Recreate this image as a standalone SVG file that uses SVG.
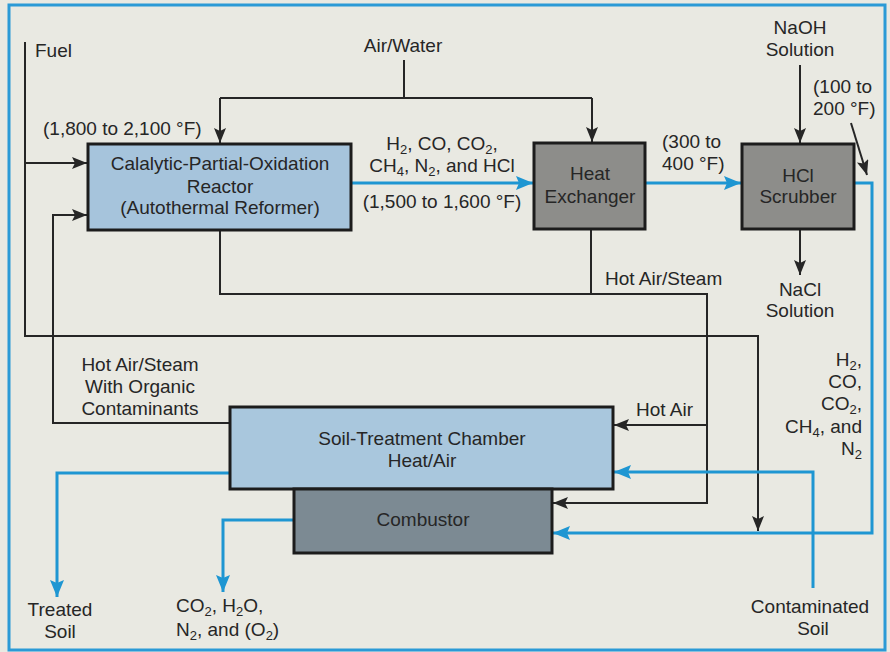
<svg xmlns="http://www.w3.org/2000/svg" width="890" height="652" viewBox="0 0 890 652">
<defs>
<style>
text{font-family:"Liberation Sans",Arial,sans-serif;font-size:19px;fill:#262626}
.m{text-anchor:middle}
.e{text-anchor:end}
.sub{font-size:13px;baseline-shift:-4px}
.k{fill:none;stroke:#262626;stroke-width:2}
.b{fill:none;stroke:#1e96d2;stroke-width:3}
.box{stroke:#1c1c1c;stroke-width:3}
</style>
<marker id="ak" markerUnits="userSpaceOnUse" markerWidth="16" markerHeight="12" refX="15" refY="6" orient="auto"><path d="M0,0 L15,6 L0,12 L3,6 z" fill="#262626"/></marker>
<marker id="ab" markerUnits="userSpaceOnUse" markerWidth="18" markerHeight="14" refX="17" refY="7" orient="auto"><path d="M0,0 L17,7 L0,14 L3,7 z" fill="#1e96d2"/></marker>
</defs>
<rect x="0" y="0" width="890" height="652" fill="#e9e9e2"/>
<rect x="9" y="5" width="876" height="645" fill="none" stroke="#2b9ad6" stroke-width="3"/>

<g id="connectors">
<path class="k" d="M25,42 V336 H758 V531" marker-end="url(#ak)"/>
<path class="k" d="M25,163 H87" marker-end="url(#ak)"/>
<path class="k" d="M404,60 V98"/>
<path class="k" d="M220,98 H592"/>
<path class="k" d="M220,98 V143" marker-end="url(#ak)"/>
<path class="k" d="M592,98 V142" marker-end="url(#ak)"/>
<path class="k" d="M220,230 V294 H707 V503 H553" marker-end="url(#ak)"/>
<path class="k" d="M591,229 V294"/>
<path class="k" d="M707,425 H614" marker-end="url(#ak)"/>
<path class="k" d="M230,423 H53 V215 H87" marker-end="url(#ak)"/>
<path class="k" d="M800,65 V143" marker-end="url(#ak)"/>
<path class="k" d="M800,229 V275" marker-end="url(#ak)"/>
<path class="k" d="M851,123 L867,175" marker-end="url(#ak)"/>
<path class="b" d="M351,183 H533" marker-end="url(#ab)"/>
<path class="b" d="M645,183 H741" marker-end="url(#ab)"/>
<path class="b" d="M854,183 H872 V533 H553" marker-end="url(#ab)"/>
<path class="b" d="M813,588 V472 H614" marker-end="url(#ab)"/>
<path class="b" d="M230,473 H57 V597" marker-end="url(#ab)"/>
<path class="b" d="M294,520 H223 V592" marker-end="url(#ab)"/>
</g>

<g id="reactor">
<rect class="box" x="88" y="144" width="263" height="86" fill="#a6c4dc"/>
<text class="m" x="220" y="170">Calalytic-Partial-Oxidation</text>
<text class="m" x="220" y="193">Reactor</text>
<text class="m" x="220" y="214">(Autothermal Reformer)</text>
</g>
<g id="heat-exchanger">
<rect class="box" x="534" y="143" width="111" height="86" fill="#8d8d8a"/>
<text class="m" x="590" y="180">Heat</text>
<text class="m" x="590" y="203">Exchanger</text>
</g>
<g id="hcl-scrubber">
<rect class="box" x="742" y="144" width="112" height="85" fill="#8d8d8a"/>
<text class="m" x="798" y="182">HCl</text>
<text class="m" x="798" y="203">Scrubber</text>
</g>
<g id="soil-chamber">
<rect class="box" x="230" y="407" width="383" height="82" fill="#a9c7dd"/>
<text class="m" x="422" y="445">Soil-Treatment Chamber</text>
<text class="m" x="422" y="467">Heat/Air</text>
</g>
<g id="combustor">
<rect class="box" x="294" y="489" width="258" height="64" fill="#7c8a93"/>
<text class="m" x="423" y="526">Combustor</text>
</g>

<g id="labels">
<text x="35" y="57">Fuel</text>
<text class="m" x="403" y="52">Air/Water</text>
<text x="43" y="135">(1,800 to 2,100 °F)</text>
<text class="m" x="442" y="150">H<tspan class="sub">2</tspan>, CO, CO<tspan class="sub">2</tspan>,</text>
<text class="m" x="442" y="172">CH<tspan class="sub">4</tspan>, N<tspan class="sub">2</tspan>, and HCl</text>
<text class="m" x="442" y="208">(1,500 to 1,600 °F)</text>
<text x="662" y="148">(300 to</text>
<text x="662" y="170">400 °F)</text>
<text class="m" x="800" y="34">NaOH</text>
<text class="m" x="800" y="56">Solution</text>
<text x="813" y="93">(100 to</text>
<text x="813" y="115">200 °F)</text>
<text x="605" y="285">Hot Air/Steam</text>
<text class="m" x="800" y="296">NaCl</text>
<text class="m" x="800" y="317">Solution</text>
<text class="e" x="862" y="366">H<tspan class="sub">2</tspan>,</text>
<text class="e" x="862" y="388">CO,</text>
<text class="e" x="862" y="410">CO<tspan class="sub">2</tspan>,</text>
<text class="e" x="862" y="433">CH<tspan class="sub">4</tspan>, and</text>
<text class="e" x="862" y="455">N<tspan class="sub">2</tspan></text>
<text class="m" x="140" y="371">Hot Air/Steam</text>
<text class="m" x="140" y="393">With Organic</text>
<text class="m" x="140" y="415">Contaminants</text>
<text x="636" y="416">Hot Air</text>
<text class="m" x="60" y="616">Treated</text>
<text class="m" x="60" y="638">Soil</text>
<text x="176" y="612">CO<tspan class="sub">2</tspan>, H<tspan class="sub">2</tspan>O,</text>
<text x="176" y="636">N<tspan class="sub">2</tspan>, and (O<tspan class="sub">2</tspan>)</text>
<text class="m" x="810" y="613">Contaminated</text>
<text class="m" x="813" y="635">Soil</text>
</g>
</svg>
